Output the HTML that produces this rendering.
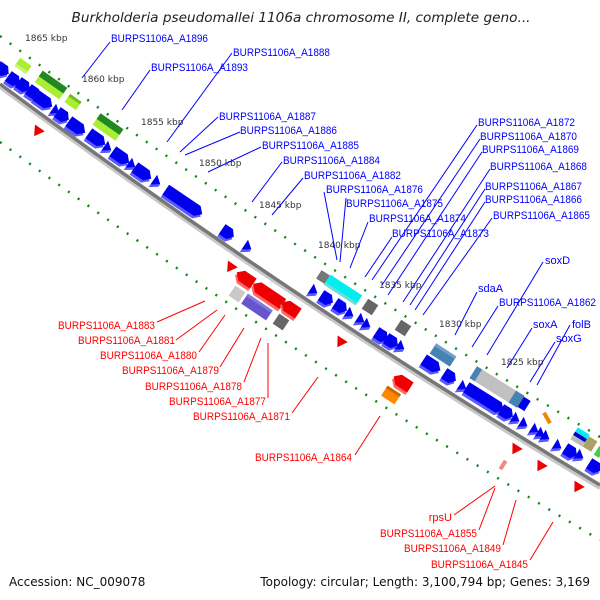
<!DOCTYPE html>
<html><head><meta charset="utf-8"><style>
html,body{margin:0;padding:0;background:#fff;}
svg{display:block;}
.b{font-family:"Liberation Sans",sans-serif;font-size:11px;fill:#0000ff;}
.r{font-family:"Liberation Sans",sans-serif;font-size:11px;fill:#ff0000;text-anchor:end;}
.k{font-family:"DejaVu Sans",sans-serif;font-size:9px;fill:#333;}
</style></head><body>
<svg width="600" height="600" viewBox="0 0 600 600" xmlns="http://www.w3.org/2000/svg">
<defs>
<g id="bA"><polygon points="-10,-3 4,-3 10,3 4,9 -10,9" fill="#5a5aff"/><polygon points="-10,-6 4,-6 10,0 4,6 -10,6" fill="#0000ee"/></g>
<g id="bL"><polygon points="-22,-3 16,-3 22,3 16,9 -22,9" fill="#5a5aff"/><polygon points="-22,-6 16,-6 22,0 16,6 -22,6" fill="#0000ee"/></g>
<g id="bM"><polygon points="-7,-3 2,-3 7,3 2,9 -7,9" fill="#5a5aff"/><polygon points="-7,-6 2,-6 7,0 2,6 -7,6" fill="#0000ee"/></g>
<g id="bT"><polygon points="-4,-6 4,0 -4,6" fill="#0000ee"/><polygon points="-4,6 4,0 4,3 -4,9" fill="#5a5aff"/></g>
<g id="rA"><polygon points="10,-3 -4,-3 -10,3 -4,9 10,9" fill="#ff6666"/><polygon points="10,-6 -4,-6 -10,0 -4,6 10,6" fill="#ee0000"/></g>
<g id="rL"><polygon points="18,-3 -12,-3 -18,3 -12,9 18,9" fill="#ff6666"/><polygon points="18,-6 -12,-6 -18,0 -12,6 18,6" fill="#ee0000"/></g>
<g id="rT"><polygon points="5,-6 -5,0 5,6" fill="#ee0000"/></g>
</defs>
<text x="301" y="22" text-anchor="middle" font-family="DejaVu Sans,sans-serif" font-style="italic" font-size="13" fill="#222" textLength="459" lengthAdjust="spacingAndGlyphs">Burkholderia pseudomallei 1106a chromosome II, complete geno...</text>

<path d="M0,36 Q300,258 600,437" fill="none" stroke="#118811" stroke-width="2.5" stroke-dasharray="2 10"/>
<path d="M0,142 Q300,362 600,540" fill="none" stroke="#118811" stroke-width="2.5" stroke-dasharray="2 10"/>
<path d="M0,87 Q300,309 600,488" fill="none" stroke="#c8c8c8" stroke-width="4"/>
<path d="M0,84 Q300,306 600,485" fill="none" stroke="#777" stroke-width="3.5"/>

<g>
<use href="#bM" transform="translate(3,70) rotate(35)"/>
<use href="#bM" transform="translate(14,80) rotate(35)"/>
<use href="#bM" transform="translate(24,86) rotate(35)"/>
<use href="#bM" transform="translate(34,93) rotate(35)"/>
<use href="#bA" transform="translate(44,101) rotate(35)"/>
<use href="#bT" transform="translate(56,111) rotate(35)"/>
<use href="#bM" transform="translate(63,116) rotate(35)"/>
<use href="#bA" transform="translate(77,127) rotate(35)"/>
<use href="#bA" transform="translate(97,139) rotate(35)"/>
<use href="#bT" transform="translate(108,148) rotate(35)"/>
<use href="#bA" transform="translate(121,157) rotate(35)"/>
<use href="#bT" transform="translate(132,165) rotate(35)"/>
<use href="#bA" transform="translate(143,173) rotate(35)"/>
<use href="#bT" transform="translate(157,182) rotate(35)"/>
<use href="#bL" transform="translate(184,202) rotate(34)"/>
<use href="#bM" transform="translate(228,233) rotate(34)"/>
<use href="#bT" transform="translate(248,247) rotate(34)"/>
<use href="#bT" transform="translate(314,291) rotate(33)"/>
<use href="#bM" transform="translate(327,299) rotate(33)"/>
<use href="#bM" transform="translate(341,307) rotate(33)"/>
<use href="#bT" transform="translate(350,314) rotate(33)"/>
<use href="#bT" transform="translate(361,320) rotate(33)"/>
<use href="#bT" transform="translate(367,325) rotate(33)"/>
<use href="#bM" transform="translate(382,336) rotate(33)"/>
<use href="#bM" transform="translate(392,342) rotate(33)"/>
<use href="#bT" transform="translate(401,347) rotate(33)"/>
<use href="#bA" transform="translate(432,365) rotate(33)"/>
<use href="#bM" transform="translate(450,377) rotate(33)"/>
<use href="#bT" transform="translate(463,387) rotate(33)"/>
<use href="#bL" transform="translate(485,399) rotate(32)"/>
<use href="#bM" transform="translate(507,413) rotate(32)"/>
<use href="#bT" transform="translate(516,419) rotate(32)"/>
<use href="#bT" transform="translate(524,424) rotate(32)"/>
<use href="#bT" transform="translate(535,430) rotate(32)"/>
<use href="#bT" transform="translate(541,434) rotate(32)"/>
<use href="#bT" transform="translate(546,437) rotate(32)"/>
<use href="#bT" transform="translate(558,446) rotate(32)"/>
<use href="#bM" transform="translate(571,452) rotate(32)"/>
<use href="#bT" transform="translate(580,456) rotate(32)"/>
<use href="#bM" transform="translate(595,467) rotate(32)"/>
</g>

<g transform="translate(23,66) rotate(35)"><rect x="-7" y="-5" width="14" height="10" fill="#aaee33"/><rect x="-7" y="2" width="14" height="3" fill="#ccf577"/></g>
<g transform="translate(51,85) rotate(35)"><rect x="-15" y="-7" width="30" height="7" fill="#228822"/><rect x="-15" y="0" width="30" height="7" fill="#aaee33"/></g>
<g transform="translate(73,102) rotate(35)"><rect x="-7" y="-5" width="14" height="10" fill="#aaee33"/><rect x="-7" y="-5" width="14" height="3" fill="#77bb22"/></g>
<g transform="translate(108,127) rotate(35)"><rect x="-14" y="-7" width="28" height="7" fill="#228822"/><rect x="-14" y="0" width="28" height="7" fill="#aaee33"/></g>
<g transform="translate(323,277) rotate(33)"><rect x="-5" y="-5" width="10" height="10" fill="#777"/></g>
<g transform="translate(343,290) rotate(33)"><rect x="-19" y="-6" width="38" height="12" fill="#00eeee"/><rect x="-19" y="3" width="38" height="3" fill="#66dddd"/></g>
<g transform="translate(370,307) rotate(33)"><rect x="-6" y="-6" width="12" height="12" fill="#666"/></g>
<g transform="translate(403,328) rotate(33)"><rect x="-6" y="-6" width="12" height="12" fill="#666"/></g>
<g transform="translate(443,355) rotate(33)"><rect x="-12" y="-6" width="24" height="12" fill="#4682b4"/><rect x="-12" y="-6" width="24" height="3" fill="#6fa0c8"/></g>
<g transform="translate(497,387) rotate(32)"><rect x="-28" y="-7" width="56" height="14" fill="#c0c0c0"/><rect x="-28" y="-7" width="6" height="14" fill="#4682b4"/><rect x="18" y="-7" width="10" height="14" fill="#4682b4"/><rect x="28" y="-6" width="8" height="12" fill="#0000ee"/></g>
<g transform="translate(547,418) rotate(60)"><rect x="-6" y="-2" width="12" height="4" fill="#ee8800"/></g>
<g transform="translate(580,437) rotate(32)"><rect x="-7" y="-7" width="14" height="5" fill="#00eeee"/><rect x="-7" y="-2" width="14" height="4" fill="#0000cc"/><rect x="-7" y="2" width="14" height="5" fill="#bbb"/></g>
<g transform="translate(590,444) rotate(32)"><rect x="-5" y="-6" width="10" height="12" fill="#aaa266"/></g>
<g transform="translate(599,452) rotate(32)"><rect x="-3" y="-5" width="6" height="10" fill="#44cc44"/></g>

<use href="#rT" transform="translate(37,132) rotate(-55)"/>
<use href="#rT" transform="translate(230,268) rotate(-55)"/>
<use href="#rA" transform="translate(245,278) rotate(34)"/>
<use href="#rL" transform="translate(268,294) rotate(34)"/>
<use href="#rA" transform="translate(290,308) rotate(34)"/>
<g transform="translate(237,294) rotate(34)"><rect x="-6" y="-6" width="12" height="12" fill="#c8c8c8"/></g>
<g transform="translate(257,307) rotate(34)"><rect x="-15" y="-6" width="30" height="12" fill="#6655cc"/><rect x="-15" y="-6" width="30" height="3" fill="#8877dd"/></g>
<g transform="translate(281,322) rotate(34)"><rect x="-6" y="-6" width="12" height="12" fill="#666"/></g>
<use href="#rT" transform="translate(340,343) rotate(-57)"/>
<use href="#rA" transform="translate(402,382) rotate(33)"/>
<g transform="translate(391,395) rotate(33)"><rect x="-8" y="-6" width="16" height="12" fill="#ff8800"/><rect x="-8" y="-6" width="16" height="3" fill="#cc6600"/></g>
<use href="#rT" transform="translate(515,450) rotate(-58)"/>
<g transform="translate(503,465) rotate(-58)"><rect x="-5" y="-2" width="10" height="4" fill="#ee8888"/></g>
<use href="#rT" transform="translate(540,467) rotate(-58)"/>
<use href="#rT" transform="translate(577,488) rotate(-58)"/>

<text class="k" x="25" y="41">1865 kbp</text>
<text class="k" x="82" y="82">1860 kbp</text>
<text class="k" x="141" y="125">1855 kbp</text>
<text class="k" x="199" y="166">1850 kbp</text>
<text class="k" x="259" y="208">1845 kbp</text>
<text class="k" x="318" y="248">1840 kbp</text>
<text class="k" x="379" y="288">1835 kbp</text>
<text class="k" x="439" y="327">1830 kbp</text>
<text class="k" x="501" y="365">1825 kbp</text>

<g stroke="#0000ff" stroke-width="1" fill="none">
<path d="M110,42 L82,78"/>
<path d="M232,53 L167,142"/>
<path d="M150,70 L122,110"/>
<path d="M218,117 L180,152"/>
<path d="M240,132 L185,155"/>
<path d="M261,147 L208,172"/>
<path d="M282,162 L252,202"/>
<path d="M303,178 L272,215"/>
<path d="M324,192 L337,260"/>
<path d="M346,198 L340,262"/>
<path d="M368,222 L350,268"/>
<path d="M392,237 L365,277"/>
<path d="M477,125 L372,280"/>
<path d="M480,139 L382,285"/>
<path d="M482,152 L388,295"/>
<path d="M490,169 L403,302"/>
<path d="M485,189 L410,305"/>
<path d="M485,202 L415,310"/>
<path d="M492,218 L423,315"/>
<path d="M543,262 L487,355"/>
<path d="M477,292 L455,335"/>
<path d="M498,306 L472,347"/>
<path d="M532,328 L507,368"/>
<path d="M570,325 L537,385"/>
<path d="M555,342 L530,382"/>
</g>
<text class="b" x="111" y="42" textLength="97" lengthAdjust="spacingAndGlyphs">BURPS1106A_A1896</text>
<text class="b" x="233" y="56" textLength="97" lengthAdjust="spacingAndGlyphs">BURPS1106A_A1888</text>
<text class="b" x="151" y="71" textLength="97" lengthAdjust="spacingAndGlyphs">BURPS1106A_A1893</text>
<text class="b" x="219" y="120" textLength="97" lengthAdjust="spacingAndGlyphs">BURPS1106A_A1887</text>
<text class="b" x="240" y="134" textLength="97" lengthAdjust="spacingAndGlyphs">BURPS1106A_A1886</text>
<text class="b" x="262" y="149" textLength="97" lengthAdjust="spacingAndGlyphs">BURPS1106A_A1885</text>
<text class="b" x="283" y="164" textLength="97" lengthAdjust="spacingAndGlyphs">BURPS1106A_A1884</text>
<text class="b" x="304" y="179" textLength="97" lengthAdjust="spacingAndGlyphs">BURPS1106A_A1882</text>
<text class="b" x="326" y="193" textLength="97" lengthAdjust="spacingAndGlyphs">BURPS1106A_A1876</text>
<text class="b" x="346" y="207" textLength="97" lengthAdjust="spacingAndGlyphs">BURPS1106A_A1875</text>
<text class="b" x="369" y="222" textLength="97" lengthAdjust="spacingAndGlyphs">BURPS1106A_A1874</text>
<text class="b" x="392" y="237" textLength="97" lengthAdjust="spacingAndGlyphs">BURPS1106A_A1873</text>
<text class="b" x="478" y="126" textLength="97" lengthAdjust="spacingAndGlyphs">BURPS1106A_A1872</text>
<text class="b" x="480" y="140" textLength="97" lengthAdjust="spacingAndGlyphs">BURPS1106A_A1870</text>
<text class="b" x="482" y="153" textLength="97" lengthAdjust="spacingAndGlyphs">BURPS1106A_A1869</text>
<text class="b" x="490" y="170" textLength="97" lengthAdjust="spacingAndGlyphs">BURPS1106A_A1868</text>
<text class="b" x="485" y="190" textLength="97" lengthAdjust="spacingAndGlyphs">BURPS1106A_A1867</text>
<text class="b" x="485" y="203" textLength="97" lengthAdjust="spacingAndGlyphs">BURPS1106A_A1866</text>
<text class="b" x="493" y="219" textLength="97" lengthAdjust="spacingAndGlyphs">BURPS1106A_A1865</text>
<text class="b" x="545" y="264">soxD</text>
<text class="b" x="478" y="292">sdaA</text>
<text class="b" x="499" y="306" textLength="97" lengthAdjust="spacingAndGlyphs">BURPS1106A_A1862</text>
<text class="b" x="533" y="328">soxA</text>
<text class="b" x="572" y="328">folB</text>
<text class="b" x="556" y="342">soxG</text>

<g stroke="#ff0000" stroke-width="1" fill="none">
<path d="M157,322 L205,301"/>
<path d="M176,340 L217,310"/>
<path d="M199,352 L225,315"/>
<path d="M220,367 L244,328"/>
<path d="M244,382 L261,338"/>
<path d="M268,398 L268,343"/>
<path d="M292,413 L318,377"/>
<path d="M355,455 L380,416"/>
<path d="M454,515 L495,486"/>
<path d="M479,530 L495,488"/>
<path d="M503,545 L516,500"/>
<path d="M530,560 L553,522"/>
</g>
<text class="r" x="155" y="329" textLength="97" lengthAdjust="spacingAndGlyphs">BURPS1106A_A1883</text>
<text class="r" x="175" y="344" textLength="97" lengthAdjust="spacingAndGlyphs">BURPS1106A_A1881</text>
<text class="r" x="197" y="359" textLength="97" lengthAdjust="spacingAndGlyphs">BURPS1106A_A1880</text>
<text class="r" x="219" y="374" textLength="97" lengthAdjust="spacingAndGlyphs">BURPS1106A_A1879</text>
<text class="r" x="242" y="390" textLength="97" lengthAdjust="spacingAndGlyphs">BURPS1106A_A1878</text>
<text class="r" x="266" y="405" textLength="97" lengthAdjust="spacingAndGlyphs">BURPS1106A_A1877</text>
<text class="r" x="290" y="420" textLength="97" lengthAdjust="spacingAndGlyphs">BURPS1106A_A1871</text>
<text class="r" x="352" y="461" textLength="97" lengthAdjust="spacingAndGlyphs">BURPS1106A_A1864</text>
<text class="r" x="452" y="521">rpsU</text>
<text class="r" x="477" y="537" textLength="97" lengthAdjust="spacingAndGlyphs">BURPS1106A_A1855</text>
<text class="r" x="501" y="552" textLength="97" lengthAdjust="spacingAndGlyphs">BURPS1106A_A1849</text>
<text class="r" x="528" y="568" textLength="97" lengthAdjust="spacingAndGlyphs">BURPS1106A_A1845</text>

<text x="9" y="586" font-family="DejaVu Sans,sans-serif" font-size="12" fill="#111">Accession: NC_009078</text>
<text x="590" y="586" text-anchor="end" font-family="DejaVu Sans,sans-serif" font-size="12" fill="#111">Topology: circular; Length: 3,100,794 bp; Genes: 3,169</text>
</svg>
</body></html>
